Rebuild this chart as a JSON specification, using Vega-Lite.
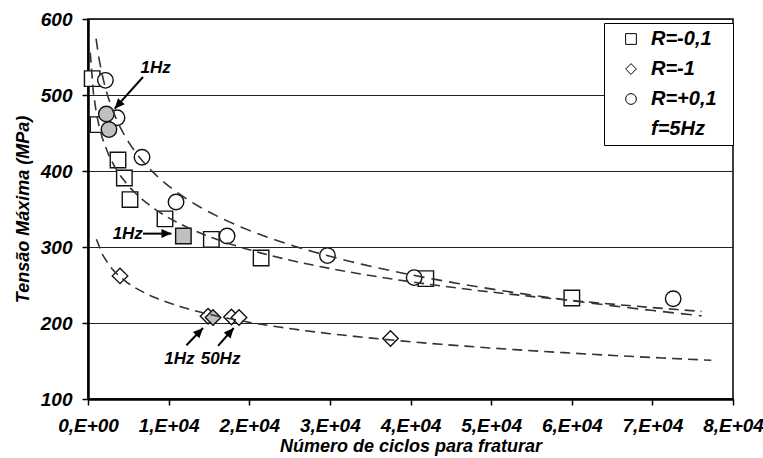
{
  "$schema": "https://vega.github.io/schema/vega-lite/v6.json",
  "width": 645,
  "height": 380,
  "autosize": {"type": "none"},
  "padding": {"left": 88, "top": 19, "right": 30, "bottom": 59},
  "background": "white",
  "config": {
    "font": "Liberation Sans",
    "view": {"stroke": "black", "strokeWidth": 1.5},
    "axis": {
      "labelFont": "Liberation Sans", "labelFontSize": 19, "labelFontWeight": "bold", "labelFontStyle": "italic", "labelColor": "black",
      "titleFont": "Liberation Sans", "titleFontSize": 18, "titleFontWeight": "bold", "titleFontStyle": "italic", "titleColor": "black",
      "domainColor": "black", "tickColor": "black", "gridColor": "#222", "gridWidth": 1
    }
  },
  "datasets": {
    "points": [
      {"serie": "R=-0,1", "freq": "5Hz", "N": 520, "S": 521.5},
      {"serie": "R=-0,1", "freq": "5Hz", "N": 1240, "S": 461},
      {"serie": "R=-0,1", "freq": "5Hz", "N": 3720, "S": 414.5},
      {"serie": "R=-0,1", "freq": "5Hz", "N": 4510, "S": 390.8},
      {"serie": "R=-0,1", "freq": "5Hz", "N": 5210, "S": 362.4},
      {"serie": "R=-0,1", "freq": "5Hz", "N": 9550, "S": 337},
      {"serie": "R=-0,1", "freq": "5Hz", "N": 15300, "S": 310},
      {"serie": "R=-0,1", "freq": "5Hz", "N": 21470, "S": 285.5},
      {"serie": "R=-0,1", "freq": "5Hz", "N": 41900, "S": 258.4},
      {"serie": "R=-0,1", "freq": "5Hz", "N": 60010, "S": 232.9},
      {"serie": "R=+0,1", "freq": "5Hz", "N": 2160, "S": 519.3},
      {"serie": "R=+0,1", "freq": "5Hz", "N": 3600, "S": 470},
      {"serie": "R=+0,1", "freq": "5Hz", "N": 6700, "S": 418},
      {"serie": "R=+0,1", "freq": "5Hz", "N": 10920, "S": 359.2},
      {"serie": "R=+0,1", "freq": "5Hz", "N": 17250, "S": 314.5},
      {"serie": "R=+0,1", "freq": "5Hz", "N": 29700, "S": 288.7},
      {"serie": "R=+0,1", "freq": "5Hz", "N": 40450, "S": 259.7},
      {"serie": "R=+0,1", "freq": "5Hz", "N": 72580, "S": 232},
      {"serie": "R=-1", "freq": "5Hz", "N": 3970, "S": 262},
      {"serie": "R=-1", "freq": "5Hz", "N": 14890, "S": 208.8},
      {"serie": "R=-1", "freq": "5Hz", "N": 37520, "S": 179.5},
      {"serie": "R=-1", "freq": "50Hz", "N": 17790, "S": 207.9},
      {"serie": "R=-1", "freq": "50Hz", "N": 18730, "S": 207.1},
      {"serie": "R=-0,1", "freq": "1Hz", "N": 11830, "S": 314.5},
      {"serie": "R=+0,1", "freq": "1Hz", "N": 2280, "S": 475},
      {"serie": "R=+0,1", "freq": "1Hz", "N": 2600, "S": 454.5},
      {"serie": "R=-1", "freq": "1Hz", "N": 15510, "S": 207.1}
    ],
    "arrows": [
      {"id": 1, "N1": 6820, "S1": 523.7, "N2": 3310, "S2": 482},
      {"id": 2, "N1": 6820, "S1": 317.6, "N2": 10350, "S2": 317.6},
      {"id": 3, "N1": 12210, "S1": 170.7, "N2": 14270, "S2": 193.4},
      {"id": 4, "N1": 16130, "S1": 169.8, "N2": 18080, "S2": 193.4}
    ],
    "notes": [
      {"label": "1Hz", "N": 8400, "S": 535.8},
      {"label": "1Hz", "N": 4930, "S": 316.7},
      {"label": "1Hz", "N": 11340, "S": 153.2},
      {"label": "50Hz", "N": 16440, "S": 153.2}
    ]
  },
  "layer": [
    {
      "data": {"name": "points"},
      "mark": {"type": "point", "filled": true, "size": 240, "stroke": "#111", "strokeWidth": 1.4, "opacity": 1},
      "encoding": {
        "x": {
          "field": "N", "type": "quantitative",
          "scale": {"domain": [0, 80000], "nice": false, "zero": false},
          "axis": {
            "title": "Número de ciclos para fraturar",
            "values": [0, 10000, 20000, 30000, 40000, 50000, 60000, 70000, 80000],
            "labelExpr": "datum.value == 0 ? '0,E+00' : (datum.value / 10000) + ',E+04'",
            "grid": false, "domainWidth": 2.5, "tickSize": 6, "tickWidth": 1.5,
            "labelPadding": 11, "titlePadding": 2, "labelOverlap": false, "labelFlush": false
          }
        },
        "y": {
          "field": "S", "type": "quantitative",
          "scale": {"domain": [100, 600], "nice": false, "zero": false},
          "axis": {
            "title": "Tensão Máxima (MPa)",
            "values": [100, 200, 300, 400, 500, 600],
            "grid": true, "domainWidth": 2.5, "tickSize": 6, "tickWidth": 1.5,
            "labelPadding": 10, "titlePadding": 8
          }
        },
        "shape": {
          "field": "serie", "type": "nominal",
          "scale": {"domain": ["R=-0,1", "R=-1", "R=+0,1", "f=5Hz"], "range": ["square", "diamond", "circle", "M0,0L0,0"]},
          "legend": {
            "title": " ", "titleOrient": "right", "titlePadding": 10, "titleFontSize": 6,
            "orient": "none", "legendX": 516, "legendY": 4, "direction": "vertical",
            "fillColor": "white", "strokeColor": "black", "padding": 6,
            "symbolOffset": 11, "symbolSize": 115, "symbolStrokeWidth": 1,
            "symbolFillColor": "white", "symbolStrokeColor": "black",
            "labelFont": "Liberation Sans", "labelFontSize": 20, "labelFontWeight": "bold", "labelFontStyle": "italic", "labelColor": "black",
            "labelOffset": 10, "rowPadding": 10,
            "encode": {
              "legend": {"update": {"strokeWidth": {"value": 1.5}}},
              "symbols": {"enter": {"fill": {"value": "white"}, "stroke": {"value": "black"}}, "update": {"fill": {"value": "white"}, "stroke": {"value": "black"}, "opacity": {"value": 1}}}
            }
          }
        },
        "fill": {
          "field": "freq", "type": "nominal",
          "scale": {"domain": ["5Hz", "1Hz", "50Hz"], "range": ["white", "#c0c0c0", "white"]},
          "legend": null
        }
      }
    },
    {
      "data": {"name": "points"},
      "transform": [
        {"filter": "datum.serie == 'R=-0,1' && datum.freq == '5Hz'"},
        {"regression": "S", "on": "N", "method": "log", "extent": [280, 76100]}
      ],
      "mark": {"type": "line", "stroke": "#333", "strokeWidth": 1.6, "strokeDash": [10, 6]},
      "encoding": {"x": {"field": "N", "type": "quantitative"}, "y": {"field": "S", "type": "quantitative"}}
    },
    {
      "data": {"name": "points"},
      "transform": [
        {"filter": "datum.serie == 'R=+0,1' && datum.freq == '5Hz'"},
        {"regression": "S", "on": "N", "method": "log", "extent": [1000, 76100]}
      ],
      "mark": {"type": "line", "stroke": "#333", "strokeWidth": 1.6, "strokeDash": [11, 7]},
      "encoding": {"x": {"field": "N", "type": "quantitative"}, "y": {"field": "S", "type": "quantitative"}}
    },
    {
      "data": {"name": "points"},
      "transform": [
        {"filter": "datum.serie == 'R=-1' && datum.freq == '5Hz'"},
        {"regression": "S", "on": "N", "method": "log", "extent": [1040, 77300]}
      ],
      "mark": {"type": "line", "stroke": "#333", "strokeWidth": 1.6, "strokeDash": [10, 6]},
      "encoding": {"x": {"field": "N", "type": "quantitative"}, "y": {"field": "S", "type": "quantitative"}}
    },
    {
      "data": {"name": "arrows"},
      "mark": {"type": "rule", "color": "black", "strokeWidth": 2},
      "encoding": {
        "x": {"field": "N1", "type": "quantitative"}, "y": {"field": "S1", "type": "quantitative"},
        "x2": {"field": "N2"}, "y2": {"field": "S2"}
      }
    },
    {
      "data": {"name": "arrows"},
      "transform": [{"filter": "datum.id == 1"}],
      "mark": {"type": "point", "shape": "M0,0L-0.45,1L0.45,1Z", "filled": true, "color": "black", "size": 400, "angle": 221.8, "opacity": 1},
      "encoding": {"x": {"field": "N2", "type": "quantitative"}, "y": {"field": "S2", "type": "quantitative"}}
    },
    {
      "data": {"name": "arrows"},
      "transform": [{"filter": "datum.id == 2"}],
      "mark": {"type": "point", "shape": "M0,0L-0.45,1L0.45,1Z", "filled": true, "color": "black", "size": 400, "angle": 90, "opacity": 1},
      "encoding": {"x": {"field": "N2", "type": "quantitative"}, "y": {"field": "S2", "type": "quantitative"}}
    },
    {
      "data": {"name": "arrows"},
      "transform": [{"filter": "datum.id == 3"}],
      "mark": {"type": "point", "shape": "M0,0L-0.45,1L0.45,1Z", "filled": true, "color": "black", "size": 400, "angle": 43.8, "opacity": 1},
      "encoding": {"x": {"field": "N2", "type": "quantitative"}, "y": {"field": "S2", "type": "quantitative"}}
    },
    {
      "data": {"name": "arrows"},
      "transform": [{"filter": "datum.id == 4"}],
      "mark": {"type": "point", "shape": "M0,0L-0.45,1L0.45,1Z", "filled": true, "color": "black", "size": 400, "angle": 41.1, "opacity": 1},
      "encoding": {"x": {"field": "N2", "type": "quantitative"}, "y": {"field": "S2", "type": "quantitative"}}
    },
    {
      "data": {"name": "notes"},
      "mark": {"type": "text", "font": "Liberation Sans", "fontSize": 17, "fontWeight": "bold", "fontStyle": "italic", "color": "black", "align": "center", "baseline": "middle"},
      "encoding": {
        "x": {"field": "N", "type": "quantitative"}, "y": {"field": "S", "type": "quantitative"},
        "text": {"field": "label"}
      }
    }
  ]
}
